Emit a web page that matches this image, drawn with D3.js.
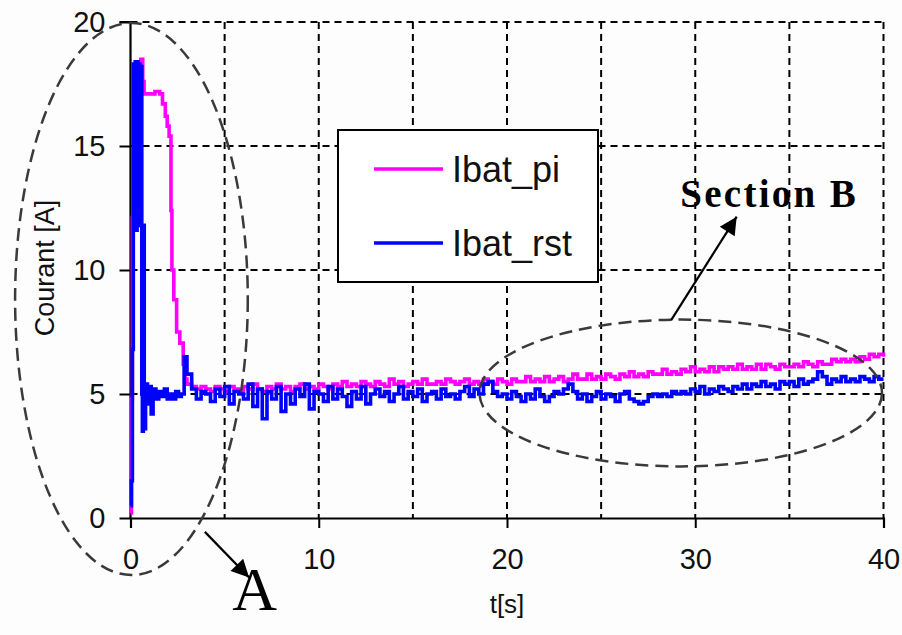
<!DOCTYPE html>
<html>
<head>
<meta charset="utf-8">
<script src="https://cdn.jsdelivr.net/npm/d3@7"></script>
<style>
  html, body { margin: 0; padding: 0; background: #ffffff; }
  svg { display: block; }
</style>
</head>
<body>
<script>
// ---------------- DATA ----------------
const seriesNames = ["Ibat_pi", "Ibat_rst"];
const seriesColors = ["#ff00ff", "#0000ff"];
const xTicks = [0, 10, 20, 30, 40];
const yTicks = [0, 5, 10, 15, 20];
const xGrid = [5, 10, 15, 20, 25, 30, 35, 40];
const yGrid = [5, 10, 15, 20];

// start-up transient [t, I]
const piTransient = [
  [0, 0.2], [0.05, 4.8], [0.1, 12.1], [0.25, 14.0], [0.35, 17.0], [0.45, 18.3],
  [0.55, 18.5], [0.65, 17.6], [0.72, 17.1], [1.1, 17.1], [1.3, 17.2], [1.55, 17.1],
  [1.7, 16.7], [1.85, 16.2], [1.95, 15.8], [2.05, 15.4], [2.15, 12.4], [2.2, 10.0],
  [2.3, 8.8], [2.45, 7.5], [2.62, 7.05], [2.8, 6.2], [2.9, 5.6]
];
const rstTransient = [
  [0, 0.5], [0.05, 1.5], [0.1, 6.8], [0.15, 18.3], [0.2, 12.0], [0.25, 18.4],
  [0.3, 11.6], [0.35, 18.4], [0.4, 12.2], [0.45, 18.3], [0.5, 11.8], [0.55, 18.2],
  [0.6, 5.0], [0.63, 3.5], [0.68, 11.8], [0.73, 3.6], [0.8, 5.4], [0.9, 4.6],
  [1.0, 5.3], [1.1, 4.2], [1.2, 5.2], [1.35, 4.8], [1.5, 5.1], [1.65, 4.9],
  [1.8, 5.2], [1.95, 4.8], [2.1, 5.0], [2.25, 4.8], [2.4, 5.1], [2.55, 4.9],
  [2.7, 5.0], [2.85, 6.5]
];

// steady part sampled every 0.25 s from t = 3 s
const steadyStart = 3.0;
const steadyStep = 0.25;
const piSteady = [
  5.4, 5.3, 5.2, 5.3,  5.2, 5.1, 5.3, 5.2,  5.1, 5.3, 5.2, 5.1,  5.3, 5.2, 5.4, 5.2,
  5.1, 5.3, 5.2, 5.4,  5.2, 5.3, 5.1, 5.3,  5.4, 5.2, 5.3, 5.2,  5.4, 5.3, 5.2, 5.4,
  5.3, 5.5, 5.3, 5.4,  5.3, 5.5, 5.4, 5.3,  5.5, 5.4, 5.3, 5.6,  5.4, 5.5, 5.3, 5.4,
  5.5, 5.4, 5.6, 5.4,  5.4, 5.5, 5.4, 5.6,  5.5, 5.4, 5.5, 5.6,  5.4, 5.5, 5.4, 5.6,
  5.5, 5.4, 5.6, 5.5,  5.4, 5.6, 5.5, 5.5,  5.7, 5.5, 5.6, 5.5,  5.7, 5.5, 5.6, 5.7,
  5.5, 5.6, 5.8, 5.6,  5.6, 5.8, 5.6, 5.7,  5.6, 5.8, 5.7, 5.6,  5.8, 5.7, 5.9, 5.7,
  5.8, 5.7, 5.9, 5.8,  5.8, 6.0, 5.8, 5.9,  5.8, 6.0, 5.9, 6.1,  5.9, 6.0, 5.9, 6.1,
  5.9, 6.1, 6.0, 6.1,  6.0, 6.2, 6.0, 6.1,  6.0, 6.2, 6.0, 6.2,  6.1, 6.0, 6.2, 6.1,
  6.1, 6.2, 6.1, 6.3,  6.2, 6.1, 6.3, 6.2,  6.2, 6.4, 6.3, 6.4,  6.3, 6.4, 6.3, 6.5,
  6.4, 6.6, 6.5, 6.6,  6.5
];
const rstSteady = [
  5.8, 5.2, 4.8, 5.1,  5.0, 4.7, 5.2, 4.9,  5.3, 4.6, 5.1, 5.0,  4.8, 5.4, 4.5, 5.2,
  4.0, 5.1, 4.8, 5.3,  4.3, 5.0, 4.6, 5.2,  4.9, 5.4, 4.4, 5.1,  5.0, 4.7, 5.3, 4.8,
  5.2, 4.9, 4.5, 5.1,  4.8, 5.3, 4.6, 5.0,  5.2, 4.9, 5.1, 4.7,  5.0, 5.3, 4.8, 5.1,
  4.9, 5.2, 4.7, 5.0,  5.1, 4.8, 5.2, 4.9,  5.0, 4.8, 5.1, 5.3,  4.9, 5.2, 5.0, 5.4,
  5.5, 5.1, 4.9, 5.0,  4.8, 5.1, 4.9, 4.7,  5.0, 4.8, 5.2, 4.9,  4.7, 4.9, 5.1, 5.0,
  5.2, 5.4, 5.1, 4.8,  5.0, 4.7, 4.9, 5.1,  4.8, 5.0, 4.9, 4.7,  5.0, 5.1, 4.8, 4.7,
  4.6, 4.7, 4.9, 5.0,  4.9, 5.0, 4.9, 5.1,  5.0, 5.1, 5.0, 5.2,  5.1, 5.3, 5.0, 5.2,
  5.1, 5.3, 5.2, 5.1,  5.3, 5.2, 5.4, 5.2,  5.4, 5.3, 5.5, 5.3,  5.4, 5.2, 5.5, 5.4,
  5.5, 5.3, 5.6, 5.4,  5.5, 5.6, 5.9, 5.7,  5.4, 5.6, 5.5, 5.7,  5.5, 5.6, 5.5, 5.7,
  5.6, 5.5, 5.7, 5.6,  5.6
];

// annotations in data units
const ellipseA = { cx: 0.05, cy: 8.83, rx: 6.18, ry: 11.13 };
const ellipseB = { cx: 29.23, cy: 5.04, rx: 10.69, ry: 2.96 };
const arrowA = { x1: 3.95, y1: -0.56, x2: 6.3, y2: -2.4 };
const arrowB = { x1: 28.72, y1: 7.98, x2: 32.2, y2: 12.15 };
const labelA = { t: 6.6, v: -3.7, text: "A" };
const labelB = { t: 29.2, v: 12.54, text: "Section B" };

// ---------------- BUILD ----------------
const W = 902, H = 635;
const x = d3.scaleLinear().domain([0, 40]).range([130.5, 883.5]);
const y = d3.scaleLinear().domain([0, 20]).range([518, 22]);

function build(transient, steady) {
  const pts = transient.map(d => ({ t: d[0], v: d[1] }));
  steady.forEach((v, i) => {
    const t = steadyStart + i * steadyStep;
    if (t <= 40.0001) pts.push({ t, v });
  });
  return pts;
}
const series = [build(piTransient, piSteady), build(rstTransient, rstSteady)];

const svg = d3.select("body").append("svg").attr("width", W).attr("height", H);
svg.append("rect").attr("width", W).attr("height", H).attr("fill", "#fdfdfd");

const defs = svg.append("defs");
defs.append("marker").attr("id", "ah")
  .attr("viewBox", "0 0 10 10").attr("refX", 10).attr("refY", 5)
  .attr("markerWidth", 9).attr("markerHeight", 8).attr("markerUnits", "strokeWidth")
  .attr("orient", "auto")
  .append("path").attr("d", "M0,0 L10,5 L0,10 Z").attr("fill", "#000");

// grid
const grid = svg.append("g").attr("stroke", "#000").attr("stroke-width", 2)
  .attr("stroke-dasharray", "7,5");
grid.selectAll(".vg").data(xGrid).join("line")
  .attr("x1", d => x(d)).attr("x2", d => x(d)).attr("y1", y(20)).attr("y2", y(0));
grid.selectAll(".hg").data(yGrid).join("line")
  .attr("y1", d => y(d)).attr("y2", d => y(d)).attr("x1", x(0)).attr("x2", x(40));

// axes
const font = "'Liberation Sans', Arial, sans-serif";
const yAxis = d3.axisLeft(y).tickValues(yTicks).tickSize(11).tickPadding(14).tickFormat(d3.format("d"));
const xAxis = d3.axisBottom(x).tickValues(xTicks).tickSize(10).tickPadding(20).tickFormat(d3.format("d"));
const gy = svg.append("g").attr("transform", `translate(${x(0)},0)`).call(yAxis);
const gx = svg.append("g").attr("transform", `translate(0,${y(0)})`).call(xAxis);
[gx, gy].forEach(g => {
  g.select(".domain").attr("stroke", "#000").attr("stroke-width", 2.2);
  g.selectAll(".tick line").attr("stroke", "#000").attr("stroke-width", 2);
  g.selectAll(".tick text").attr("fill", "#111").style("font-family", font).style("font-size", "29px");
});
gy.select(".domain").attr("d", `M-11,${y(20)}H0V${y(0)}`);

// axis titles
svg.append("text").attr("x", x(20)).attr("y", 613).attr("text-anchor", "middle")
  .style("font-family", font).style("font-size", "26px").attr("fill", "#111").text("t[s]");
svg.append("text").attr("transform", `translate(54,${y(10) - 2}) rotate(-90)`)
  .attr("text-anchor", "middle").style("font-family", font).style("font-size", "27px")
  .attr("fill", "#111").text("Courant [A]");

// lines
const line = d3.line().x(d => x(d.t)).y(d => y(d.v)).curve(d3.curveStepAfter);
svg.selectAll(".series").data(series).join("path")
  .attr("fill", "none")
  .attr("stroke", (d, i) => seriesColors[i])
  .attr("stroke-width", 3.6)
  .attr("stroke-linejoin", "miter")
  .attr("d", line);

// legend
const lg = svg.append("g");
lg.append("rect").attr("x", 338).attr("y", 130).attr("width", 260).attr("height", 152)
  .attr("fill", "#fff").attr("stroke", "#000").attr("stroke-width", 2);
seriesNames.forEach((n, i) => {
  const yy = 169 + i * 74;
  lg.append("line").attr("x1", 374).attr("x2", 443).attr("y1", yy).attr("y2", yy)
    .attr("stroke", seriesColors[i]).attr("stroke-width", 3.6);
  lg.append("text").attr("x", 452).attr("y", yy + 13)
    .style("font-family", font).style("font-size", "36px").attr("fill", "#111").text(n);
});

// annotations
const ann = svg.append("g");
[ellipseA, ellipseB].forEach(e => {
  ann.append("ellipse")
    .attr("cx", x(e.cx)).attr("cy", y(e.cy))
    .attr("rx", x(e.cx + e.rx) - x(e.cx)).attr("ry", y(e.cy) - y(e.cy + e.ry))
    .attr("fill", "none").attr("stroke", "#3a3a3a").attr("stroke-width", 2.5)
    .attr("stroke-dasharray", "13,7");
});
[arrowA, arrowB].forEach(a => {
  ann.append("line").attr("x1", x(a.x1)).attr("y1", y(a.y1)).attr("x2", x(a.x2)).attr("y2", y(a.y2))
    .attr("stroke", "#000").attr("stroke-width", 2.2).attr("marker-end", "url(#ah)");
});
ann.append("text").attr("x", x(labelA.t)).attr("y", y(labelA.v)).attr("text-anchor", "middle")
  .style("font-family", "'Liberation Serif', 'Times New Roman', serif").style("font-size", "62px")
  .attr("fill", "#000").text(labelA.text);
ann.append("text").attr("x", x(labelB.t)).attr("y", y(labelB.v))
  .style("font-family", "'Liberation Serif', 'Times New Roman', serif").style("font-size", "39px")
  .style("font-weight", "bold").style("letter-spacing", "2.3px")
  .attr("fill", "#000").text(labelB.text);
</script>
</body>
</html>
